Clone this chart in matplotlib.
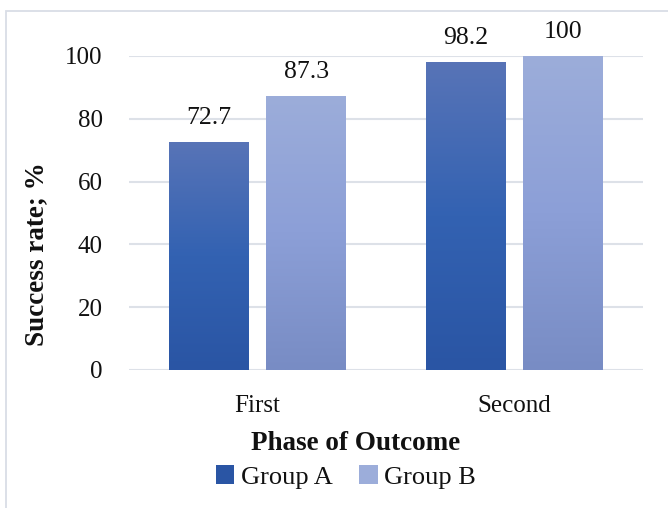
import numpy as np
import matplotlib
matplotlib.use("Agg")
import matplotlib.pyplot as plt
from matplotlib.colors import LinearSegmentedColormap
from matplotlib.patches import Rectangle, Patch

# Data
categories = ["First", "Second"]
series_names = ["Group A", "Group B"]
group_a = [72.7, 98.2]
group_b = [87.3, 100]
y_ticks = [0, 20, 40, 60, 80, 100]

# Gradient stops (top -> bottom) for each series
grad_a = ["#5874b7", "#3362b2", "#2a55a4"]
grad_b = ["#9cadda", "#8c9fd7", "#788cc4"]

plt.rcParams["font.family"] = ["Liberation Serif", "DejaVu Serif"]

W, H = 668, 508
fig = plt.figure(figsize=(W / 100, H / 100), dpi=100)

# outer chart border (left and top edges visible)
fig.patches.append(Rectangle((6 / W, -0.1), 1.2, 1 - 11 / H + 0.1, transform=fig.transFigure,
                             fill=False, edgecolor="#d9dde6", linewidth=1.3, zorder=0))

ax = fig.add_axes([129 / W, 138 / H, 514 / W, 314 / H])

x = np.arange(len(categories))
width = 0.31
offset = 0.19

def gradient_bars(xpos, values, stops):
    cmap = LinearSegmentedColormap.from_list("g", stops)
    bars = ax.bar(xpos, values, width, color=stops[1], zorder=2)
    grad = np.linspace(0, 1, 256).reshape(-1, 1)
    for b in bars:
        x0, y0 = b.get_x(), b.get_y()
        w, h = b.get_width(), b.get_height()
        im = ax.imshow(grad, cmap=cmap, aspect="auto", origin="upper",
                       extent=[x0, x0 + w, y0, y0 + h], zorder=3)
        im.set_clip_path(b)
    for xi, v in zip(xpos, values):
        ax.annotate(f"{v:g}", (xi, v), xytext=(0, 9), textcoords="offset points",
                    ha="center", va="bottom", fontsize=18.5, color="#111111",
                    annotation_clip=False)
    return bars

gradient_bars(x - offset, group_a, grad_a)
gradient_bars(x + offset, group_b, grad_b)

ax.set_xlim(-0.5, 1.5)
ax.set_ylim(0, 100)
ax.set_yticks(y_ticks)
ax.set_xticks(x)
ax.set_xticklabels(categories)
ax.tick_params(axis="both", length=0, labelsize=18, colors="#111111")
ax.tick_params(axis="y", pad=19)
ax.tick_params(axis="x", pad=18)
ax.grid(axis="y", color="#dde1e8", linewidth=1.5, zorder=0)
ax.set_axisbelow(True)
for s in ax.spines.values():
    s.set_visible(False)

fig.text(37 / W, 1 - 254 / H, "Success rate; %", rotation=90, ha="center", va="center",
         fontsize=19.5, fontweight="bold", color="#111111")

fig.text(356 / W, 1 - 444 / H, "Phase of Outcome", ha="center", va="center",
         fontsize=19.5, fontweight="bold", color="#111111")

handles = [Patch(facecolor=grad_a[2], edgecolor="none"),
           Patch(facecolor=grad_b[0], edgecolor="none")]
fig.legend(handles, series_names, loc="center", bbox_to_anchor=(346 / W, 1 - 477 / H),
           ncol=2, frameon=False, fontsize=19, handlelength=0.7, handleheight=0.7,
           handletextpad=0.25, columnspacing=1.0, labelcolor="#111111")

fig.savefig("out.png", dpi=100)
